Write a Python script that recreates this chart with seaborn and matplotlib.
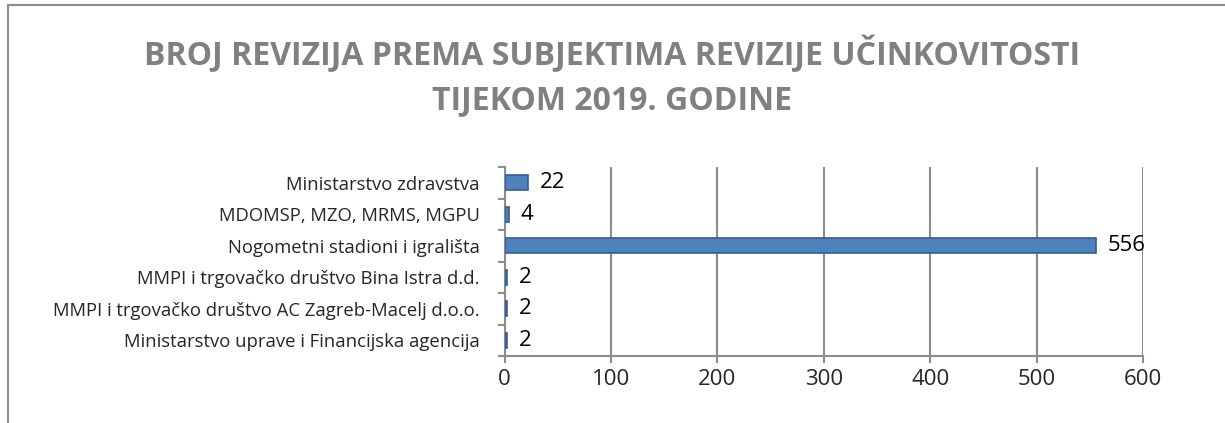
import matplotlib
matplotlib.use('Agg')
import matplotlib.pyplot as plt
import seaborn as sns
import pandas as pd
import numpy as np
from matplotlib.patches import Rectangle

# Data
subjects = [
    'Ministarstvo zdravstva',
    'MDOMSP, MZO, MRMS, MGPU',
    'Nogometni stadioni i igrališta',
    'MMPI i trgovačko društvo Bina Istra d.d.',
    'MMPI i trgovačko društvo AC Zagreb-Macelj d.o.o.',
    'Ministarstvo uprave i Financijska agencija',
]
counts = [22, 4, 556, 2, 2, 2]
x_ticks = [0, 100, 200, 300, 400, 500, 600]
title = 'BROJ REVIZIJA PREMA SUBJEKTIMA REVIZIJE UČINKOVITOSTI\nTIJEKOM 2019. GODINE'

df = pd.DataFrame({'subjekt': subjects, 'broj': counts})

sns.set_style('white')
plt.rcParams['font.family'] = ['Open Sans', 'DejaVu Sans']

fig = plt.figure(figsize=(12.25, 4.23), dpi=100)
ax = fig.add_axes([0.412, 0.158, 0.521, 0.447])

# vertical gridlines (back wall)
for t in x_ticks:
    ax.axvline(t, color='#8c8c8c', lw=1.5, zorder=0)

sns.barplot(data=df, x='broj', y='subjekt', color='#4F81BD', width=0.48,
            edgecolor='#385D8A', linewidth=1.2, saturation=1, ax=ax, zorder=3)

for i, v in enumerate(counts):
    ax.text(v + 11, i, str(v), va='center', ha='left', fontsize=16, color='black')

ax.set_xlim(0, 600)
ax.set_ylim(len(subjects) - 0.5, -0.5)
ax.set_xticks(x_ticks)
ax.set_yticks(np.arange(-0.5, len(subjects)), minor=True)
ax.set_xlabel('')
ax.set_ylabel('')
ax.tick_params(axis='x', labelsize=16, length=5, color='#8c8c8c', width=1.5,
               bottom=True, pad=4)
ax.tick_params(axis='y', which='major', labelsize=13.3, length=0, pad=18)
ax.tick_params(axis='y', which='minor', length=5, color='#8c8c8c', width=1.5, left=True)
for s in ['top', 'right']:
    ax.spines[s].set_visible(False)
for s in ['left', 'bottom']:
    ax.spines[s].set_color('#8c8c8c')
    ax.spines[s].set_linewidth(1.5)

fig.text(0.5, 0.82, title, ha='center', va='center', fontsize=23,
         fontweight='bold', color='#808080', linespacing=1.45)

# chart frame
fig.patches.append(Rectangle((8 / 1225, -0.05), 1.1, 1 - 5 / 423 + 0.05,
                             transform=fig.transFigure, fill=False,
                             edgecolor='#8c8c8c', lw=1.5))

fig.savefig('out.png', dpi=100)
